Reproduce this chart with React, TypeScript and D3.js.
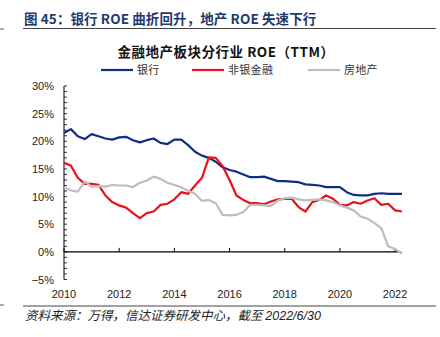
import React from "react";
import * as d3 from "d3";

const seriesNames = ["银行", "非银金融", "房地产"];
const seriesColors = ["#0f2f84", "#e8121f", "#bdbdbd"];

const bank = [21.5, 22.2, 20.9, 20.4, 21.3, 20.9, 20.5, 20.3, 20.7, 20.8, 20.2, 19.8, 20.2, 20.5, 19.7, 19.5, 20.3, 20.3, 19.3, 18.1, 17.4, 17.0, 16.3, 15.3, 14.8, 14.5, 14.0, 13.5, 13.5, 13.6, 13.2, 12.8, 12.8, 12.7, 12.6, 12.2, 12.1, 12.0, 11.7, 11.7, 11.7, 10.8, 10.3, 10.2, 10.2, 10.5, 10.6, 10.5, 10.5, 10.5];
const nonBank = [16.1, 15.6, 13.4, 12.3, 12.3, 12.1, 10.2, 9.0, 8.4, 8.0, 7.0, 6.1, 7.0, 7.3, 8.5, 8.7, 9.5, 10.8, 10.5, 12.0, 13.4, 17.1, 17.0, 15.5, 13.0, 10.2, 9.4, 8.8, 8.8, 8.6, 9.1, 9.5, 9.6, 9.6, 8.1, 7.3, 9.0, 9.4, 10.2, 9.6, 8.5, 8.4, 9.0, 8.7, 9.3, 9.7, 8.5, 8.7, 7.5, 7.3];
const realEstate = [11.7, 11.1, 10.9, 12.7, 11.8, 11.9, 11.8, 12.1, 12.0, 12.0, 11.7, 12.5, 12.9, 13.6, 13.2, 12.5, 12.1, 11.7, 11.0, 10.5, 9.2, 9.4, 8.8, 6.7, 6.6, 6.7, 7.2, 8.5, 8.5, 8.4, 8.3, 9.3, 9.7, 9.8, 9.5, 9.3, 9.4, 9.5, 9.3, 9.0, 8.4, 8.0, 7.5, 6.4, 6.0, 5.2, 4.3, 1.0, 0.5, -0.3];

const xTickLabels = ["2010", "2012", "2014", "2016", "2018", "2020", "2022"];
const yTicks = [-5, 0, 5, 10, 15, 20, 25, 30];

const allSeries = [bank, nonBank, realEstate];

export default function App() {
  const W = 440, H = 337;
  const x = d3.scaleLinear().domain([0, bank.length - 1]).range([64, 402]);
  const y = d3.scaleLinear().domain([-5, 30]).range([279.5, 86]);
  const line = d3.line<number>().x((_, i) => x(i)).y((d) => y(d));
  const minor = d3.range(-5, 31, 1);
  const cjk = "'Noto Sans CJK SC', sans-serif";
  const latin = "'Liberation Sans', Arial, sans-serif";

  return (
    <svg width={W} height={H} style={{ position: "absolute", left: 0, top: 0, background: "#fff" }}>
      {/* header */}
      <text x={24} y={24} fontFamily={cjk} fontSize={13.5} fontWeight="bold" fill="#1f3a6e" letterSpacing={0.1}>
        图 45：银行 ROE 曲折回升，地产 ROE 失速下行
      </text>
      <line x1={0} x2={4} y1={29} y2={29} stroke="#555" strokeWidth={1} />
      <line x1={23} x2={436} y1={28.5} y2={28.5} stroke="#444" strokeWidth={1} />

      {/* chart title */}
      <text x={226} y={57} textAnchor="middle" fontFamily={cjk} fontSize={13.5} fontWeight="bold" fill="#111" letterSpacing={0.5}>
        金融地产板块分行业 ROE（TTM）
      </text>

      {/* legend */}
      {[101, 192, 308].map((lx, i) => (
        <g key={i}>
          <line x1={lx} x2={lx + 32} y1={70} y2={70} stroke={seriesColors[i]} strokeWidth={2.2} />
          <text x={lx + 36} y={74} fontFamily={cjk} fontSize={11} fill="#333" letterSpacing={0.3}>
            {seriesNames[i]}
          </text>
        </g>
      ))}

      {/* y axis */}
      <line x1={64} x2={64} y1={y(30)} y2={y(-5)} stroke="#000" strokeWidth={1} />
      {minor.map((v) => (
        <line key={v} x1={64} x2={67} y1={y(v)} y2={y(v)} stroke="#000" strokeWidth={0.8} />
      ))}
      {yTicks.map((v) => (
        <text key={v} x={54} y={y(v) + 4} textAnchor="end" fontFamily={latin} fontSize={11} fill="#222">
          {v < 0 ? "\u2212" + Math.abs(v) : v}%
        </text>
      ))}

      {/* x axis */}
      <line x1={64} x2={401} y1={y(0)} y2={y(0)} stroke="#000" strokeWidth={1.2} />
      {xTickLabels.map((lab, k) => (
        <g key={lab}>
          <line x1={x(k * 8)} x2={x(k * 8)} y1={y(0)} y2={y(0) - 4} stroke="#000" strokeWidth={1} />
          <text x={x(k * 8)} y={298} textAnchor="middle" fontFamily={latin} fontSize={11} fill="#222">
            {lab}
          </text>
        </g>
      ))}

      {/* series */}
      {allSeries.map((s, i) => (
        <path key={i} d={line(s) || ""} fill="none" stroke={seriesColors[i]} strokeWidth={2.2} strokeLinejoin="round" />
      ))}

      {/* footer */}
      <line x1={0} x2={4} y1={305} y2={305} stroke="#555" strokeWidth={1} />
      <line x1={23} x2={436} y1={306} y2={306} stroke="#444" strokeWidth={1} />
      <text x={25} y={320} fontFamily={cjk} fontSize={12.5} fontStyle="italic" fill="#222">
        资料来源：万得，信达证券研发中心，截至 <tspan fontFamily={latin}>2022/6/30</tspan>
      </text>
    </svg>
  );
}
